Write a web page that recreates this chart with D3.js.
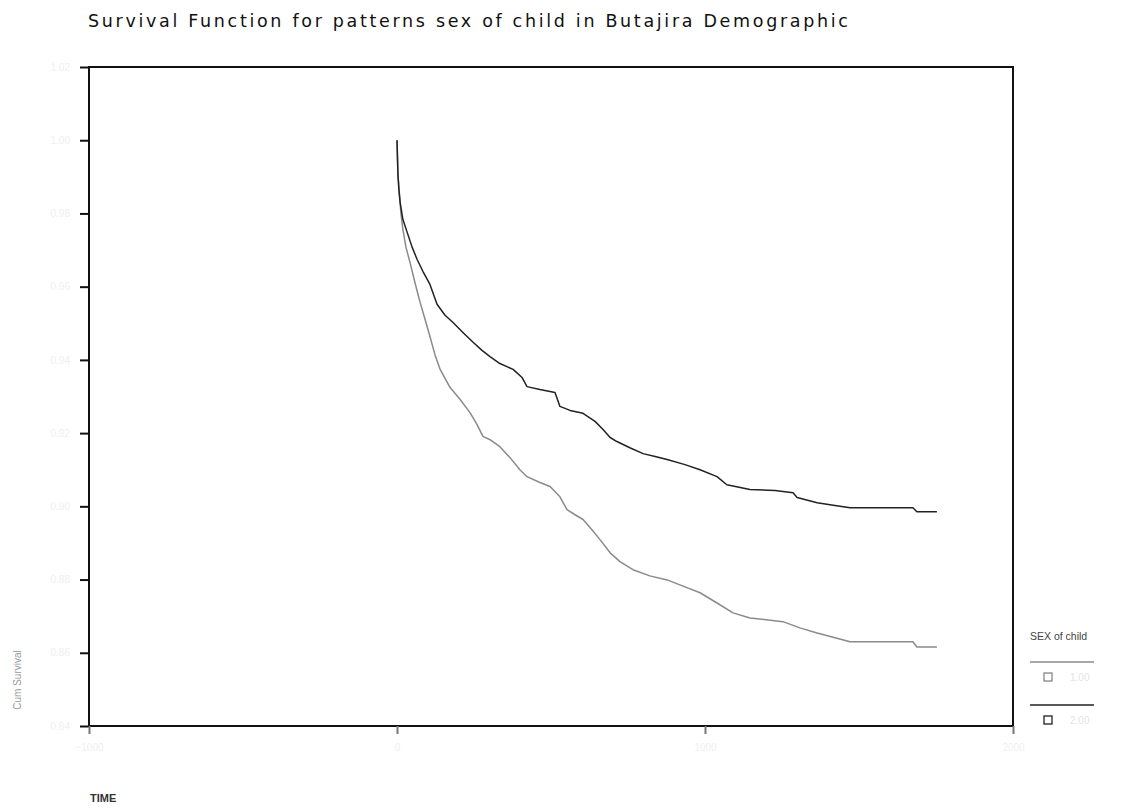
<!DOCTYPE html>
<html>
<head>
<meta charset="utf-8">
<script src="https://cdn.jsdelivr.net/npm/d3@7"></script>
<style>
  html, body { margin: 0; padding: 0; background: #fff; }
  svg { display: block; font-family: "Liberation Sans", Arial, sans-serif; }
</style>
</head>
<body>
<svg id="chart" width="1138" height="811"></svg>
<script>
// ---- data ----
const title = "Survival Function for patterns sex of child in Butajira Demographic";
const xTicks = [-1000, 0, 1000, 2000];
const yTicks = [0.84, 0.86, 0.88, 0.90, 0.92, 0.94, 0.96, 0.98, 1.00, 1.02];
const seriesNames = ["1.00", "2.00"];

// series 1 (upper, dark)
const timeUpper = [0, 3, 6, 10, 19, 32, 49, 65, 84, 107, 130, 156, 182, 214, 247, 276, 302, 334, 377, 406, 422, 464, 513, 529, 562, 604, 643, 669, 692, 714, 756, 799, 838, 877, 935, 984, 1039, 1071, 1146, 1227, 1286, 1299, 1364, 1422, 1471, 1675, 1688, 1753];
const survUpper = [1.0, 0.9907, 0.9866, 0.9831, 0.9784, 0.9751, 0.9708, 0.9675, 0.9642, 0.9606, 0.9552, 0.9522, 0.9502, 0.9475, 0.9448, 0.9426, 0.9409, 0.9390, 0.9374, 0.9352, 0.9327, 0.9319, 0.9311, 0.9273, 0.9262, 0.9254, 0.9232, 0.9210, 0.9188, 0.9177, 0.9160, 0.9144, 0.9136, 0.9128, 0.9114, 0.9100, 0.9081, 0.9059, 0.9046, 0.9043, 0.9037, 0.9024, 0.9010, 0.9002, 0.8996, 0.8996, 0.8985, 0.8985];

// series 2 (lower, grey)
const timeLower = [0, 3, 10, 13, 19, 29, 42, 58, 75, 91, 107, 123, 140, 172, 205, 237, 260, 279, 302, 334, 367, 399, 422, 464, 497, 529, 552, 578, 604, 633, 659, 692, 724, 766, 821, 877, 935, 984, 1039, 1091, 1146, 1253, 1308, 1364, 1471, 1675, 1688, 1753];
const survLower = [1.0, 0.9907, 0.9831, 0.9798, 0.9757, 0.9708, 0.9667, 0.9612, 0.9557, 0.9511, 0.9464, 0.9415, 0.9374, 0.9325, 0.9292, 0.9256, 0.9223, 0.9191, 0.9182, 0.9163, 0.9133, 0.9100, 0.9081, 0.9065, 0.9054, 0.9026, 0.8991, 0.8977, 0.8964, 0.8936, 0.8909, 0.8873, 0.8849, 0.8827, 0.8810, 0.8799, 0.8780, 0.8764, 0.8736, 0.8709, 0.8695, 0.8685, 0.8668, 0.8654, 0.8630, 0.8630, 0.8616, 0.8616];

// ---- drawing ----
const svg = d3.select("#chart");
const mLeft = 89, mRight = 1013, mTop = 67, mBottom = 726;

const x = d3.scaleLinear().domain([-1000, 2000]).range([mLeft, mRight]);
const y = d3.scaleLinear().domain([0.84, 1.02]).range([mBottom, mTop]);

// title
svg.append("text")
  .attr("x", 88).attr("y", 27)
  .attr("font-size", 17.5)
  .attr("font-family", "'DejaVu Sans', sans-serif")
  .attr("fill", "#111")
  .attr("textLength", 760)
  .attr("lengthAdjust", "spacing")
  .text(title);

// frame
svg.append("rect")
  .attr("x", mLeft).attr("y", mTop)
  .attr("width", mRight - mLeft).attr("height", mBottom - mTop)
  .attr("fill", "none").attr("stroke", "#111").attr("stroke-width", 2);

// y axis
const yAxis = d3.axisLeft(y).tickValues(yTicks).tickSize(9).tickPadding(10)
  .tickFormat(d3.format(".2f"));
const gy = svg.append("g").attr("transform", `translate(${mLeft},0)`).call(yAxis);
gy.select(".domain").remove();
gy.selectAll(".tick line").attr("stroke", "#111").attr("stroke-width", 2);
gy.selectAll(".tick text").attr("fill", "#efefef").attr("font-size", 10);

// x axis
const xAxis = d3.axisBottom(x).tickValues(xTicks).tickSize(8).tickPadding(10)
  .tickFormat(d3.format("d"));
const gx = svg.append("g").attr("transform", `translate(0,${mBottom})`).call(xAxis);
gx.select(".domain").remove();
gx.selectAll(".tick line").attr("stroke", "#777").attr("stroke-width", 2);
gx.selectAll(".tick text").attr("fill", "#efefef").attr("font-size", 10);

// curves
const line = d3.line().x(d => x(d[0])).y(d => y(d[1])).curve(d3.curveLinear);
const upper = timeUpper.map((t, i) => [t, survUpper[i]]);
const lower = timeLower.map((t, i) => [t, survLower[i]]);

svg.append("path").datum(lower)
  .attr("d", line).attr("fill", "none")
  .attr("stroke", "#8a8a8a").attr("stroke-width", 1.5)
  .attr("stroke-linejoin", "round");
svg.append("path").datum(upper)
  .attr("d", line).attr("fill", "none")
  .attr("stroke", "#222").attr("stroke-width", 1.5)
  .attr("stroke-linejoin", "round");

// axis titles
svg.append("text")
  .attr("transform", "translate(21,680) rotate(-90)")
  .attr("text-anchor", "middle")
  .attr("font-size", 10).attr("fill", "#9a9a9a")
  .text("Cum Survival");

svg.append("text")
  .attr("x", 90).attr("y", 802)
  .attr("font-size", 11).attr("font-weight", "bold").attr("fill", "#333")
  .text("TIME");

// legend
const lg = svg.append("g");
lg.append("text").attr("x", 1030).attr("y", 640)
  .attr("font-size", 10.5).attr("fill", "#444").text("SEX of child");
const legendColors = ["#8a8a8a", "#222"];
seriesNames.forEach((name, i) => {
  const ly = 662 + i * 43;
  lg.append("line").attr("x1", 1030).attr("x2", 1094).attr("y1", ly).attr("y2", ly)
    .attr("stroke", legendColors[i]).attr("stroke-width", 1.4);
  lg.append("rect").attr("x", 1044).attr("y", ly + 11).attr("width", 8).attr("height", 8)
    .attr("fill", "none").attr("stroke", i === 0 ? "#888" : "#222").attr("stroke-width", 1.3);
  lg.append("text").attr("x", 1070).attr("y", ly + 19)
    .attr("font-size", 10).attr("fill", "#e4e4e4").text(name);
});
</script>
</body>
</html>
